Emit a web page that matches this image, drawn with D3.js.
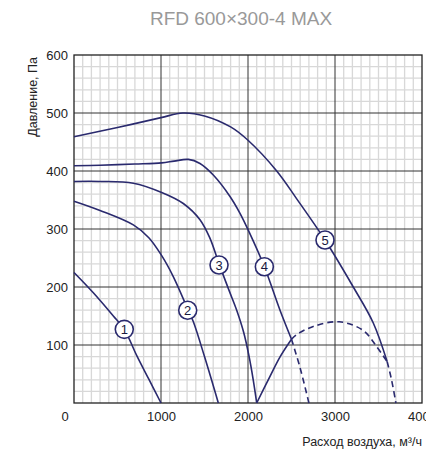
<!DOCTYPE html>
<html><head><meta charset="utf-8">
<script src="https://cdn.jsdelivr.net/npm/d3@7"></script>
<style>html,body{margin:0;padding:0;background:#fff;}svg{display:block;}</style>
</head><body>
<script>
const title = "RFD 600×300-4 MAX";
const xTitle = "Расход воздуха, м³/ч";
const yTitle = "Давление, Па";
const xTicks = [1000, 2000, 3000, 4000];
const yTicks = [100, 200, 300, 400, 500, 600];

const curve1 = [[0,225],[222,190],[452,150],[578,127],[720,82],[860,41],[1000,0]];
const curve2 = [[0,348],[299,332],[682,307],[860,285],[1008,254],[1141,218],[1307,162],[1372,140],[1500,80],[1659,0]];
const curve3 = [[0,382],[299,382],[682,379],[1008,363],[1256,344],[1448,316],[1560,285],[1667,240],[1780,195],[1870,160],[1950,122],[2010,82],[2060,40],[2100,0]];
const curve4 = [[0,409],[299,410],[700,412],[1008,414],[1150,417],[1314,420],[1448,413],[1601,393],[1793,356],[1908,327],[2003,298],[2188,235],[2368,160],[2500,110]];
const curve5 = [[0,459],[500,475],[1000,492],[1250,500],[1500,495],[1800,476],[2000,453],[2330,400],[2560,352],[2885,281],[3210,200],[3440,138],[3600,71]];
const limitSolid = [[2100,0],[2250,45],[2370,80],[2500,110]];
const limitDashed = [[2500,110],[2560,118],[2750,132],[3050,140],[3325,125],[3480,97],[3600,71]];
const curve4Dashed = [[2500,110],[2600,60],[2700,0]];
const curve5Dashed = [[3600,71],[3650,40],[3700,0]];
const labels = [["1",578,127],["2",1307,160],["3",1667,238],["4",2188,235],["5",2885,281]];

const W = 426, H = 452;
const svg = d3.select("body").append("svg").attr("width", W).attr("height", H);
const x = d3.scaleLinear().domain([0, 4000]).range([74, 422]);
const y = d3.scaleLinear().domain([0, 600]).range([403, 55]);
const font = "'Liberation Sans', Arial, Helvetica, sans-serif";
const navy = "#2a2a6e";

// minor grid
const g = svg.append("g");
g.selectAll(".vmin").data(d3.range(100, 4000, 100).filter(v => v % 1000 !== 0)).join("line")
  .attr("x1", d => x(d)).attr("x2", d => x(d)).attr("y1", y(0)).attr("y2", y(600))
  .attr("stroke", "#d8d8d8").attr("stroke-width", 1.3);
g.selectAll(".hmin").data(d3.range(20, 600, 20).filter(v => v % 100 !== 0)).join("line")
  .attr("x1", x(0)).attr("x2", x(4000)).attr("y1", d => y(d)).attr("y2", d => y(d))
  .attr("stroke", "#d8d8d8").attr("stroke-width", 1.3);
// major grid
g.selectAll(".vmaj").data([1000, 2000, 3000]).join("line")
  .attr("x1", d => x(d)).attr("x2", d => x(d)).attr("y1", y(0)).attr("y2", y(600))
  .attr("stroke", "#333").attr("stroke-width", 1);
g.selectAll(".hmaj").data([100, 200, 300, 400, 500]).join("line")
  .attr("x1", x(0)).attr("x2", x(4000)).attr("y1", d => y(d)).attr("y2", d => y(d))
  .attr("stroke", "#333").attr("stroke-width", 1);
g.append("rect").attr("x", x(0)).attr("y", y(600)).attr("width", x(4000) - x(0)).attr("height", y(0) - y(600))
  .attr("fill", "none").attr("stroke", "#222").attr("stroke-width", 1.3);

// axes labels via d3 axes
const xAxis = svg.append("g").attr("transform", `translate(0,${y(0)})`)
  .call(d3.axisBottom(x).tickValues(xTicks).tickSize(0).tickPadding(9).tickFormat(d3.format("d")));
const yAxis = svg.append("g").attr("transform", `translate(${x(0)},0)`)
  .call(d3.axisLeft(y).tickValues(yTicks).tickSize(0).tickPadding(6).tickFormat(d3.format("d")));
[xAxis, yAxis].forEach(a => {
  a.select(".domain").remove();
  a.selectAll("text").attr("font-family", font).attr("font-size", 13).attr("fill", "#222");
});
svg.append("text").attr("x", 65).attr("y", y(0) + 18).attr("text-anchor", "middle")
  .attr("font-family", font).attr("font-size", 13).attr("fill", "#222").text("0");

// titles
svg.append("text").attr("x", 241).attr("y", 25).attr("text-anchor", "middle")
  .attr("font-family", font).attr("font-size", 19).attr("fill", "#999").text(title);
svg.append("text").attr("x", 422).attr("y", 446).attr("text-anchor", "end")
  .attr("font-family", font).attr("font-size", 12.5).attr("fill", "#222").text(xTitle);
svg.append("text").attr("transform", "translate(37,57) rotate(-90)").attr("text-anchor", "end")
  .attr("font-family", font).attr("font-size", 12.5).attr("fill", "#222").text(yTitle);

// curves
const line = d3.line().x(d => x(d[0])).y(d => y(d[1])).curve(d3.curveCatmullRom.alpha(0.5));
const cg = svg.append("g").attr("fill", "none").attr("stroke", navy).attr("stroke-width", 1.6);
[curve1, curve2, curve3, curve4, curve5, limitSolid].forEach(c => cg.append("path").attr("d", line(c)));
[limitDashed, curve4Dashed, curve5Dashed].forEach(c => cg.append("path").attr("d", line(c)).attr("stroke-dasharray", "6,4"));

// labels
const lg = svg.append("g").selectAll("g").data(labels).join("g")
  .attr("transform", d => `translate(${x(d[1])},${y(d[2])})`);
lg.append("circle").attr("r", 9).attr("fill", "#fff").attr("stroke", navy).attr("stroke-width", 1.6);
lg.append("text").attr("text-anchor", "middle").attr("dy", "0.36em")
  .attr("font-family", font).attr("font-size", 13).attr("fill", "#1a1a40").text(d => d[0]);
</script>
</body></html>
